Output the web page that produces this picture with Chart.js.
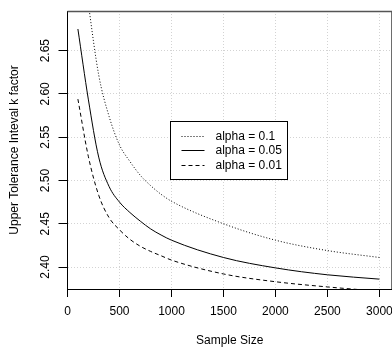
<!DOCTYPE html>
<html>
<head>
<meta charset="utf-8">
<script src="https://cdn.jsdelivr.net/npm/chart.js@4/dist/chart.umd.min.js"></script>
<style>
  html, body { margin: 0; padding: 0; background: #fff; }
  #wrap { width: 392px; height: 348px; overflow: hidden; position: relative; }
  canvas { display: block; }
</style>
</head>
<body>
<div id="wrap"><canvas id="kChart" width="400" height="348"></canvas></div>
<script>
// sample sizes and k factors
const sampleSizes = [100, 200, 300, 400, 500, 600, 700, 800, 900, 1000, 1500, 2000, 2500, 3000];
const kAlpha10 = [2.80, 2.705, 2.622, 2.574, 2.541, 2.522, 2.506, 2.494, 2.484, 2.476, 2.450, 2.431, 2.419, 2.411];
const kAlpha05 = [2.675, 2.594, 2.527, 2.493, 2.475, 2.463, 2.453, 2.444, 2.437, 2.431, 2.411, 2.399, 2.391, 2.386];
const kAlpha01 = [2.594, 2.528, 2.483, 2.457, 2.443, 2.432, 2.424, 2.418, 2.413, 2.408, 2.392, 2.383, 2.377, 2.372];

const xTicks = [0, 500, 1000, 1500, 2000, 2500, 3000];
const yTicks = [2.40, 2.45, 2.50, 2.55, 2.60, 2.65];

const seriesLabels = ['alpha = 0.1', 'alpha = 0.05', 'alpha = 0.01'];
const seriesDash = [[1, 2], [], [4, 3]];

Chart.defaults.font.family = '"Liberation Sans", Arial, Helvetica, sans-serif';
Chart.defaults.font.size = 12;
Chart.defaults.color = '#000';

function toPoints(vals) {
    return sampleSizes.map((n, i) => ({x: n, y: vals[i]}));
}

const datasets = [kAlpha10, kAlpha05, kAlpha01].map((vals, i) => ({
    label: seriesLabels[i],
    data: toPoints(vals),
    borderColor: '#000',
    borderWidth: 1,
    borderDash: seriesDash[i],
    pointRadius: 0,
    cubicInterpolationMode: 'monotone',
    fill: false
}));

// R style legend box, anchored at a data position, plus the top frame line
const boxPlugin = {
    id: 'boxPlugin',
    afterDatasetsDraw(chart) {
        const ctx = chart.ctx;
        const area = chart.chartArea;
        const xs = chart.scales.x, ys = chart.scales.y;

        ctx.save();
        ctx.strokeStyle = '#555';
        ctx.lineWidth = 1.5;
        ctx.beginPath();
        ctx.moveTo(area.left, area.top + 0.5);
        ctx.lineTo(area.right, area.top + 0.5);
        ctx.lineTo(area.right, area.bottom);
        ctx.stroke();

        const bx = Math.round(xs.getPixelForValue(985)) + 0.5;
        const by = Math.round(ys.getPixelForValue(2.5686)) + 0.5;
        const bw = 117, bh = 58;
        ctx.fillStyle = '#fff';
        ctx.fillRect(bx, by, bw, bh);
        ctx.strokeStyle = '#000';
        ctx.lineWidth = 1;
        ctx.setLineDash([]);
        ctx.strokeRect(bx, by, bw, bh);

        ctx.font = '12px "Liberation Sans", Arial, sans-serif';
        ctx.textBaseline = 'middle';
        ctx.fillStyle = '#000';
        seriesLabels.forEach((lab, i) => {
            const ry = Math.round(by + 14 + i * 14.6) + 0.5;
            ctx.setLineDash(seriesDash[i]);
            ctx.beginPath();
            ctx.moveTo(bx + 11, ry);
            ctx.lineTo(bx + 34, ry);
            ctx.stroke();
            ctx.setLineDash([]);
            ctx.fillText(lab, bx + 45, ry + 0.5);
        });
        ctx.restore();
    }
};

const config = {
    type: 'line',
    data: {datasets},
    options: {
        responsive: false,
        animation: false,
        devicePixelRatio: 1,
        layout: {padding: {left: 0, top: 11, right: 6, bottom: 0}},
        plugins: {legend: {display: false}, tooltip: {enabled: false}},
        scales: {
            x: {
                type: 'linear',
                min: 0,
                max: 3120,
                afterBuildTicks: (s) => { s.ticks = xTicks.map(v => ({value: v})); },
                ticks: {
                    autoSkip: false,
                    maxRotation: 0,
                    padding: 7,
                    callback: (v) => String(v)
                },
                grid: {color: '#d3d3d3', tickColor: '#000', tickLength: 8, tickBorderDash: []},
                border: {color: '#000', width: 1, dash: [1, 2]},
                title: {display: true, text: 'Sample Size', font: {size: 12}, padding: {top: 8.2, bottom: 0}}
            },
            y: {
                type: 'linear',
                min: 2.3746,
                max: 2.6958,
                afterBuildTicks: (s) => { s.ticks = yTicks.map(v => ({value: v})); },
                ticks: {
                    autoSkip: false,
                    minRotation: 90,
                    maxRotation: 90,
                    crossAlign: 'center',
                    padding: 1.3,
                    callback: (v) => v.toFixed(2)
                },
                grid: {color: '#d3d3d3', tickColor: '#000', tickLength: 9, tickBorderDash: []},
                border: {color: '#000', width: 1, dash: [1, 2]},
                title: {display: true, text: 'Upper Tolerance Inteval k factor', font: {size: 12}, padding: {top: 7.3, bottom: 19.8}}
            }
        }
    },
    plugins: [boxPlugin]
};

new Chart(document.getElementById('kChart'), config);
</script>
</body>
</html>
